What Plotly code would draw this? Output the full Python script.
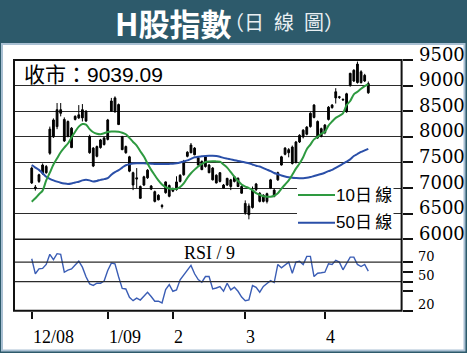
import plotly.graph_objects as go
import pandas as pd

W, H = 467, 353

# ---- categories: HK trading days, 1 Dec 2008 - 21 Apr 2009 ----
holidays = ["2008-12-25", "2008-12-26", "2009-01-01", "2009-01-26", "2009-01-27",
            "2009-01-28", "2009-04-10", "2009-04-13"]
days = [d.strftime("%Y-%m-%d") for d in pd.bdate_range("2008-12-01", "2009-04-21")
        if d.strftime("%Y-%m-%d") not in holidays]

tick_days = ["2008-12-01", "2009-01-02", "2009-02-02", "2009-03-02", "2009-04-01"]
tick_text = ["12/08", "1/09", "2", "3", "4"]

price_ticks = [6000, 6500, 7000, 7500, 8000, 8500, 9000, 9500]
rsi_ticks = [20, 40, 50, 60, 70]
rsi_labels = [20, 50, 70]

opens = [7390, 7020, 7130, 7290, 7420, 7680, 8000, 8200, 8530, 8340,
         8300, 8170, 8340, 8370, 8370, 8500, 8010, 7780, 7620, 7790,
         7850, 7950, 8500, 8490, 8630, 8000, 7810, 7610, 7300, 7200,
         7030, 7060, 7200, 7040, 6930, 6860, 6660, 6910, 7050, 6990,
         6970, 7130, 7260, 7620, 7690, 7780, 7590, 7520, 7420, 7450,
         7390, 7250, 7130, 7060, 7060, 7160, 7130, 7190, 7030, 6700,
         6650, 6620, 6970, 6900, 6860, 6740, 7000, 6960, 7160, 7450,
         7660, 7750, 7800, 7500, 7900, 8000, 8050, 8200, 8380, 8300,
         8010, 8080, 8340, 8570, 8760, 8770, 8720, 8490, 9000, 9090,
         9060, 9060, 9200, 8860]
highs = [7420, 7060, 7280, 7480, 7450, 8200, 8360, 8660, 8660, 8380,
         8320, 8190, 8420, 8620, 8640, 8520, 8040, 7800, 7830, 7960,
         7990, 8350, 8760, 8790, 8650, 8020, 7830, 7630, 7320, 7390,
         7050, 7240, 7370, 7060, 6950, 6880, 6690, 7130, 7070, 7010,
         7230, 7270, 7550, 7720, 7880, 7800, 7610, 7540, 7630, 7470,
         7410, 7270, 7310, 7080, 7200, 7180, 7240, 7210, 7050, 6760,
         6700, 7030, 7100, 6920, 6880, 6910, 7180, 6990, 7320, 7630,
         7800, 7780, 7830, 7920, 8050, 8150, 8210, 8480, 8640, 8320,
         8180, 8250, 8600, 8640, 8950, 8800, 8750, 8860, 9250, 9320,
         9470, 9300, 9230, 9080]
lows = [7080, 6950, 7100, 7260, 7280, 7650, 7980, 8150, 8400, 7900,
        7990, 7780, 8320, 8350, 8300, 8290, 7670, 7410, 7600, 7770,
        7830, 7930, 8490, 8470, 8230, 7740, 7670, 7310, 6960, 7000,
        6790, 7040, 7180, 6960, 6720, 6760, 6600, 6890, 6820, 6920,
        6950, 7110, 7240, 7600, 7680, 7640, 7440, 7350, 7400, 7290,
        7150, 7090, 7110, 6990, 7040, 6960, 7110, 7020, 6890, 6480,
        6390, 6600, 6940, 6720, 6720, 6700, 6980, 6820, 7140, 7440,
        7640, 7600, 7460, 7480, 7880, 7970, 8030, 8180, 8360, 7960,
        7990, 8050, 8320, 8550, 8650, 8740, 8700, 8470, 8980, 9070,
        9040, 9040, 9070, 8840]
closes = [7100, 6990, 7260, 7450, 7300, 8150, 8330, 8530, 8460, 7920,
          8010, 7790, 8400, 8430, 8530, 8310, 7690, 7430, 7810, 7940,
          7980, 8330, 8700, 8760, 8240, 7750, 7690, 7330, 7060, 7180,
          6800, 7220, 7350, 6980, 6740, 6770, 6640, 7120, 6840, 6940,
          7120, 7250, 7490, 7700, 7840, 7650, 7450, 7360, 7610, 7300,
          7160, 7100, 7300, 7000, 7190, 7030, 7220, 7030, 6900, 6520,
          6480, 6960, 7080, 6740, 6740, 6890, 7160, 6840, 7300, 7610,
          7780, 7690, 7480, 7900, 8030, 8130, 8190, 8460, 8620, 7980,
          8160, 8230, 8580, 8620, 8880, 8780, 8730, 8840, 9240, 9300,
          9420, 9270, 9090, 9039.09]

ma10 = [6735, 6800, 6880, 6950, 7150, 7300, 7460, 7580, 7700, 7790,
        7870, 7990, 8100, 8200, 8250, 8240, 8150, 8090, 8060, 8050,
        8070, 8095, 8105, 8105, 8100, 8080, 8050, 7980, 7900, 7830,
        7720, 7615, 7480, 7355, 7250, 7150, 7070, 7020, 6990, 6980,
        6985, 7020, 7090, 7200, 7290, 7360, 7420, 7470, 7510, 7520,
        7525, 7520, 7515, 7460, 7400, 7310, 7220, 7140, 7070, 7030,
        7000, 6960, 6900, 6870, 6840, 6830, 6830, 6850, 6900, 6990,
        7070, 7150, 7260, 7380, 7480, 7600, 7760, 7850, 7950, 8000,
        8060, 8100, 8220, 8300, 8370, 8410, 8460, 8620, 8700, 8830,
        8880, 8940, 8990, 9030]
ma50 = [7450, 7400, 7355, 7290, 7220, 7180, 7150, 7125, 7105, 7090,
        7080, 7090, 7110, 7125, 7150, 7160, 7150, 7130, 7140, 7160,
        7175, 7195, 7260, 7310, 7350, 7400, 7445, 7465, 7480, 7485,
        7486, 7484, 7480, 7476, 7472, 7472, 7470, 7470, 7472, 7475,
        7485, 7500, 7520, 7540, 7570, 7600, 7610, 7620, 7628, 7630,
        7630, 7625, 7610, 7590, 7575, 7560, 7545, 7530, 7515, 7500,
        7485, 7460, 7435, 7420, 7390, 7360, 7330, 7295, 7270, 7245,
        7225, 7210, 7200, 7195, 7192, 7192, 7200, 7215, 7235, 7255,
        7275, 7300, 7330, 7355, 7395, 7435, 7475, 7515, 7560, 7625,
        7665, 7705, 7735, 7765]
rsi9 = [73.5, 58, 63, 63.5, 67.6, 78, 72.5, 78.7, 78, 59.6,
        61.8, 63, 67, 71, 64.8, 55, 47.6, 46, 48.3, 48.3,
        50.5, 61.4, 69, 68.3, 55, 43, 42.4, 33.7, 30.3, 33,
        31, 35, 39, 34.6, 29.8, 29.8, 28, 41.7, 46.9, 40,
        41.4, 51.8, 57, 62, 66.6, 58, 52, 49.3, 55.2, 55.2,
        42.4, 43.4, 44.8, 40, 48.3, 41.4, 44.1, 40, 34, 30.3,
        31, 45.9, 44, 39, 45, 48, 51, 49, 67.6, 64.2,
        67, 70, 58.6, 70, 71, 67.6, 75.9, 75.9, 55.2, 58.6,
        59, 59.6, 68.3, 67.6, 71.8, 70, 62.1, 69, 75.2, 75.2,
        67.6, 65.5, 67.6, 60.7]


def px(p):
    return p / W


def py(p):
    return 1 - p / H


X0, X1 = 14, 401.6
Y_TOP, Y_MID, Y_BOT = 60, 239.3, 310.7

GREEN = "#2e9a40"
BLUE = "#2a4fa8"
TEAL = "#2d5a6b"
SERIF_Y = "DejaVu Serif"
SERIF_X = "Liberation Serif"
SANS = "Liberation Sans, Noto Sans CJK TC, sans-serif"

fig = go.Figure()
fig.add_trace(go.Candlestick(
    x=days, open=opens, high=highs, low=lows, close=closes,
    xaxis="x2", yaxis="y", whiskerwidth=0,
    increasing=dict(line=dict(color="black", width=1), fillcolor="black"),
    decreasing=dict(line=dict(color="black", width=1), fillcolor="black"),
    showlegend=False, hoverinfo="skip"))
fig.add_trace(go.Scatter(x=days, y=ma50, mode="lines", xaxis="x2", yaxis="y",
                         line=dict(color=BLUE, width=2, shape="spline", smoothing=0.8),
                         showlegend=False, hoverinfo="skip"))
fig.add_trace(go.Scatter(x=days, y=ma10, mode="lines", xaxis="x2", yaxis="y",
                         line=dict(color=GREEN, width=2, shape="spline", smoothing=0.8),
                         showlegend=False, hoverinfo="skip"))
fig.add_trace(go.Scatter(x=days, y=rsi9, mode="lines", xaxis="x", yaxis="y2",
                         line=dict(color="#3a5db5", width=1.4),
                         showlegend=False, hoverinfo="skip"))

shapes = [
    dict(type="rect", xref="paper", yref="paper", layer="below",
         x0=px(2), x1=px(464.5), y0=py(350.5), y1=py(44),
         fillcolor="white", line=dict(color="#a9c0d3", width=2)),
    dict(type="line", xref="x domain", yref="y2", x0=0, x1=1, y0=70, y1=70,
         line=dict(color="#2b2b2b", width=1.2)),
    dict(type="line", xref="x domain", yref="y2", x0=0, x1=1, y0=50, y1=50,
         line=dict(color="#2b2b2b", width=1.2)),
    dict(type="rect", xref="paper", yref="paper", layer="above",
         x0=px(297), x1=px(393.5), y0=py(237), y1=py(181),
         fillcolor="white", line=dict(width=0)),
    dict(type="line", xref="paper", yref="paper", x0=px(298), x1=px(335),
         y0=py(195), y1=py(195), line=dict(color=GREEN, width=2)),
    dict(type="line", xref="paper", yref="paper", x0=px(298), x1=px(335),
         y0=py(222.7), y1=py(222.7), line=dict(color=BLUE, width=2)),
    dict(type="line", xref="paper", yref="paper", x0=px(X0), x1=px(X1),
         y0=py(Y_MID), y1=py(Y_MID), line=dict(color="#1a1a1a", width=1.6)),
    dict(type="rect", xref="paper", yref="paper", x0=px(X0), x1=px(X1),
         y0=py(Y_BOT), y1=py(Y_TOP), line=dict(color="#111", width=2)),
]

annotations = [
    dict(text="<b>H股指數</b>", xref="paper", yref="paper", x=px(233), y=py(22.5),
         xanchor="right", yanchor="middle", showarrow=False,
         font=dict(family="Noto Sans CJK TC", size=31, color="white")),
    dict(text="（日\u2002線\u2002圖）", xref="paper", yref="paper", x=px(222), y=py(22),
         xanchor="left", yanchor="middle", showarrow=False,
         font=dict(family="Noto Sans CJK TC", size=20, color="#e9eff2")),
    dict(text="收市：9039.09", xref="paper", yref="paper", x=px(21.5), y=py(75),
         xanchor="left", yanchor="middle", showarrow=False,
         font=dict(family=SANS, size=21, color="black")),
    dict(text="RSI / 9", xref="paper", yref="paper", x=px(209), y=py(253),
         xanchor="center", yanchor="middle", showarrow=False,
         font=dict(family=SERIF_X, size=18, color="black")),
    dict(text="10日\u2009線", xref="paper", yref="paper", x=px(334), y=py(195),
         xanchor="left", yanchor="middle", showarrow=False,
         font=dict(family=SANS, size=17, color="black")),
    dict(text="50日\u2009線", xref="paper", yref="paper", x=px(334), y=py(222.7),
         xanchor="left", yanchor="middle", showarrow=False,
         font=dict(family=SANS, size=17, color="black")),
]
for v in price_ticks:
    annotations.append(dict(text=str(v), xref="paper", yref="y", x=px(416.5), y=v,
                            yshift=6, xanchor="left", yanchor="middle", showarrow=False,
                            font=dict(family=SERIF_Y, size=18, color="black")))
for v in rsi_labels:
    annotations.append(dict(text=str(v), xref="paper", yref="y2", x=px(416), y=v,
                            yshift=6, xanchor="left", yanchor="middle", showarrow=False,
                            font=dict(family=SERIF_Y, size=13, color="black")))
for d, t in zip(tick_days, tick_text):
    annotations.append(dict(text=t, xref="x", yref="paper", x=d, y=py(336.7),
                            xshift=-1, xanchor="left", yanchor="middle", showarrow=False,
                            font=dict(family=SERIF_X, size=18, color="black")))

xdom = [px(X0), px(X1)]
xrange = [-4.9, 102.2]

fig.update_layout(
    width=W, height=H, margin=dict(l=0, r=0, t=0, b=0),
    paper_bgcolor=TEAL, plot_bgcolor="white",
    showlegend=False, shapes=shapes, annotations=annotations,
    xaxis=dict(domain=xdom, anchor="y2", type="category", categoryorder="array",
               categoryarray=days, range=xrange,
               tickmode="array", tickvals=tick_days, ticktext=tick_text,
               ticks="outside", ticklen=7, tickwidth=2, tickcolor="#111",
               showticklabels=False,
               showgrid=False, zeroline=False, showline=False,
               rangeslider=dict(visible=False), fixedrange=True),
    xaxis2=dict(domain=xdom, anchor="y", type="category", categoryorder="array",
                categoryarray=days, matches="x", range=xrange,
                showticklabels=False, ticks="", showgrid=False, zeroline=False,
                showline=False, rangeslider=dict(visible=False)),
    yaxis=dict(domain=[py(Y_MID), py(Y_TOP)], anchor="x2", side="right",
               range=[6000, 9500], tickmode="array", tickvals=price_ticks,
               ticks="outside", ticklen=10, tickwidth=1.5, tickcolor="#111",
               showticklabels=False,
               showgrid=True, gridcolor="#2b2b2b", gridwidth=1.2,
               zeroline=False, showline=False),
    yaxis2=dict(domain=[py(Y_BOT), py(Y_MID)], anchor="x", side="right",
                range=[20, 93.5], tickmode="array", tickvals=rsi_ticks,
                ticks="outside", ticklen=10, tickwidth=1.5, tickcolor="#111",
                showticklabels=False,
                showgrid=False, zeroline=False, showline=False),
)

fig.write_html("out.html")
